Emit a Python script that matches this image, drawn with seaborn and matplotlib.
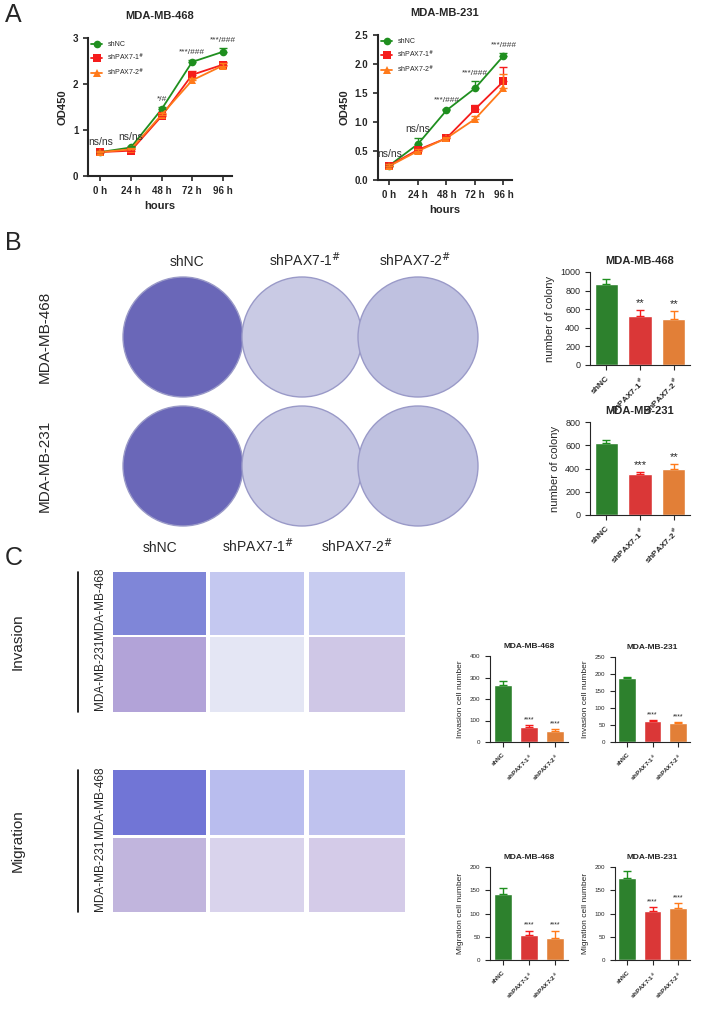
import matplotlib
matplotlib.use("Agg")
import matplotlib.pyplot as plt
import seaborn as sns
import pandas as pd
from matplotlib.patches import Circle, Rectangle

sns.set_style("ticks")
plt.rcParams['font.family'] = ['Liberation Sans', 'DejaVu Sans']

W, H = 709, 1014
GREEN, RED, ORANGE = '#1f8f1f', '#f51c1c', '#ff7a1a'
COLORS = [GREEN, RED, ORANGE]
groups = ['shNC', 'shPAX7-1$^{\\#}$', 'shPAX7-2$^{\\#}$']
hours = ['0 h', '24 h', '48 h', '72 h', '96 h']

od468 = {'shNC': [0.52, 0.62, 1.45, 2.48, 2.70],
         'sh1': [0.52, 0.55, 1.30, 2.20, 2.42],
         'sh2': [0.52, 0.58, 1.33, 2.08, 2.40]}
od468_err = {'shNC': [0.03, 0.03, 0.04, 0.04, 0.08],
             'sh1': [0.03, 0.03, 0.04, 0.09, 0.06],
             'sh2': [0.03, 0.03, 0.04, 0.05, 0.05]}
od231 = {'shNC': [0.25, 0.62, 1.20, 1.58, 2.14],
         'sh1': [0.25, 0.52, 0.72, 1.22, 1.70],
         'sh2': [0.24, 0.50, 0.72, 1.05, 1.58]}
od231_err = {'shNC': [0.03, 0.10, 0.03, 0.12, 0.05],
             'sh1': [0.03, 0.04, 0.04, 0.08, 0.25],
             'sh2': [0.03, 0.04, 0.03, 0.05, 0.25]}
ann468 = ['ns/ns', 'ns/ns', '*/#', '***/###', '***/###']
ann231 = ['ns/ns', 'ns/ns', '***/###', '***/###', '***/###']

colony468, colony468_err = [870, 530, 490], [60, 60, 90]
colony231, colony231_err = [620, 350, 400], [25, 20, 35]
colony_stars468, colony_stars231 = ['', '**', '**'], ['', '***', '**']
inv468, inv468_err = [265, 72, 52], [20, 8, 10]
inv231, inv231_err = [188, 62, 56], [2, 3, 2]
mig468, mig468_err = [142, 53, 47], [12, 10, 16]
mig231, mig231_err = [177, 105, 112], [15, 8, 10]

fig = plt.figure(figsize=(W / 100, H / 100), dpi=100)


def ax_px(l, t, r, b):
    return fig.add_axes([l / W, 1 - b / H, (r - l) / W, (b - t) / H])


def txt(x, y, s, **kw):
    fig.text(x / W, 1 - y / H, s, **kw)


# ---- panel A
def line_panel(box, data, err, ann, title, ymax, yticks, fmt):
    ax = ax_px(*box)
    rows = []
    for key, g in zip(['shNC', 'sh1', 'sh2'], groups):
        for i, h in enumerate(hours):
            rows.append((g, i, data[key][i]))
    df = pd.DataFrame(rows, columns=['group', 'h', 'od'])
    sns.lineplot(data=df, x='h', y='od', hue='group', style='group',
                 markers=['o', 's', '^'], dashes=False, markersize=5.5,
                 palette=COLORS, markeredgewidth=0, ax=ax, lw=1.3)
    for key, c in zip(['shNC', 'sh1', 'sh2'], COLORS):
        ax.errorbar(range(5), data[key], yerr=[[0] * 5, err[key]], fmt='none',
                    ecolor=c, capsize=3, lw=1)
    for i, a in enumerate(ann):
        top = max(data[k][i] + err[k][i] for k in data)
        small = a.startswith('ns')
        ax.text(i, top + ymax * 0.03, a, ha='center', va='bottom',
                fontsize=7.5 if small else 6, color='#333')
    ax.set_xlim(-0.4, 4.3)
    ax.set_ylim(0, ymax)
    ax.set_yticks(yticks)
    ax.set_yticklabels([fmt.format(v) for v in yticks])
    ax.set_xticks(range(5))
    ax.set_xticklabels(hours)
    ax.set_xlabel('hours', fontsize=8, fontweight='bold')
    ax.set_ylabel('OD450', fontsize=8, fontweight='bold')
    ax.set_title(title, fontsize=8, fontweight='bold', pad=14)
    ax.tick_params(labelsize=7, width=1.2)
    for t in ax.get_xticklabels() + ax.get_yticklabels():
        t.set_fontweight('bold')
    sns.despine(ax=ax)
    for s in ['left', 'bottom']:
        ax.spines[s].set_linewidth(1.5)
    ax.legend(frameon=False, fontsize=5, loc='upper left', handlelength=1.5,
              borderaxespad=0.1)


txt(5, 22, 'A', fontsize=18)
line_panel((88, 38, 232, 176), od468, od468_err, ann468, 'MDA-MB-468', 3, [0, 1, 2, 3], '{:.0f}')
line_panel((378, 35, 512, 180), od231, od231_err, ann231, 'MDA-MB-231', 2.5,
           [0, 0.5, 1.0, 1.5, 2.0, 2.5], '{:.1f}')


# ---- bar panels
def bar_panel(box, vals, errs, title, ymax, yticks, ylabel, stars, fs, tfs, xfs):
    ax = ax_px(*box)
    df = pd.DataFrame({'g': groups, 'v': vals})
    sns.barplot(data=df, x='g', y='v', hue='g', palette=COLORS,
                legend=False, width=0.7, ax=ax)
    for i, c in enumerate(COLORS):
        ax.errorbar([i], [vals[i]], yerr=[[0], [errs[i]]], fmt='none', ecolor=c,
                    capsize=3, lw=1)
    for i, s in enumerate(stars):
        if s:
            ax.text(i, vals[i] + errs[i] + ymax * 0.02, s, ha='center', va='bottom', fontsize=fs)
    ax.set_ylim(0, ymax)
    ax.set_yticks(yticks)
    ax.set_xlabel('')
    ax.set_ylabel(ylabel, fontsize=tfs)
    ax.set_title(title, fontsize=tfs, fontweight='bold')
    ax.tick_params(labelsize=tfs - 1.5)
    ax.set_xticks(range(3))
    ax.set_xticklabels(groups, rotation=45, ha='right', rotation_mode='anchor',
                       fontweight='bold', fontsize=xfs)
    sns.despine(ax=ax)
    return ax


txt(5, 250, 'B', fontsize=18)
for x, g in zip([187, 305, 415], groups):
    txt(x, 266, g, fontsize=10, ha='center')
dish_ax = ax_px(0, 240, 560, 540)
dish_ax.set_xlim(0, 560)
dish_ax.set_ylim(540, 240)
dish_ax.axis('off')
for cy, row in zip([337, 466], ['MDA-MB-468', 'MDA-MB-231']):
    dish_ax.text(45, cy, row, rotation=90, ha='center', va='center', fontsize=11)
    for cx, fc in zip([183, 302, 418], ['#6a67b8', '#c9cae4', '#bfc1e0']):
        dish_ax.add_patch(Circle((cx, cy), 60, fc=fc, ec='#9a9ac8', lw=1))
bar_panel((590, 272, 690, 365), colony468, colony468_err, 'MDA-MB-468', 1000,
          [0, 200, 400, 600, 800, 1000], 'number of colony', colony_stars468, 8, 8, 6)
bar_panel((590, 422, 690, 515), colony231, colony231_err, 'MDA-MB-231', 800,
          [0, 200, 400, 600, 800], 'number of colony', colony_stars231, 8, 8, 6)

# ---- panel C
txt(5, 565, 'C', fontsize=18)
for x, g in zip([160, 258, 357], groups):
    txt(x, 552, g, fontsize=10, ha='center')
ph = ax_px(0, 560, 420, 920)
ph.set_xlim(0, 420)
ph.set_ylim(920, 560)
ph.axis('off')
rows_y = [(572, 635), (637, 712), (770, 835), (838, 912)]
cols_x = [(113, 206), (210, 304), (309, 405)]
fills = [['#7f86d8', '#c4c8f0', '#c8ccf0'], ['#b2a3d8', '#e4e6f4', '#cfc7e6'],
         ['#7175d6', '#b9bdee', '#bfc2ee'], ['#c1b5dd', '#d9d3ec', '#d4cbe8']]
for (t, b), frow in zip(rows_y, fills):
    for (l, r), fc in zip(cols_x, frow):
        ph.add_patch(Rectangle((l, t), r - l, b - t, fc=fc, ec='none'))
for (t, b), lab in zip(rows_y, ['MDA-MB-468', 'MDA-MB-231', 'MDA-MB-468', 'MDA-MB-231']):
    ph.text(100, (t + b) / 2, lab, rotation=90, ha='center', va='center', fontsize=8.5)
ph.plot([78, 78], [572, 712], color='k', lw=1.2)
ph.plot([78, 78], [770, 912], color='k', lw=1.2)
ph.text(18, 642, 'Invasion', rotation=90, ha='center', va='center', fontsize=11)
ph.text(18, 841, 'Migration', rotation=90, ha='center', va='center', fontsize=11)

st4 = ['', '****', '****']
bar_panel((490, 656, 568, 742), inv468, inv468_err, 'MDA-MB-468', 400, [0, 100, 200, 300, 400],
          'Invasion cell number', st4, 5, 6, 4.5)
bar_panel((615, 657, 690, 742), inv231, inv231_err, 'MDA-MB-231', 250, [0, 50, 100, 150, 200, 250],
          'Invasion cell number', st4, 5, 6, 4.5)
bar_panel((490, 867, 568, 960), mig468, mig468_err, 'MDA-MB-468', 200, [0, 50, 100, 150, 200],
          'Migration cell number', st4, 5, 6, 4.5)
bar_panel((615, 867, 690, 960), mig231, mig231_err, 'MDA-MB-231', 200, [0, 50, 100, 150, 200],
          'Migration cell number', st4, 5, 6, 4.5)

fig.savefig('out.png', dpi=100)
